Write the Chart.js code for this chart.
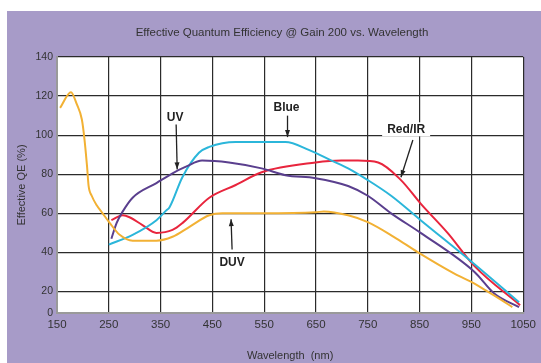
<!DOCTYPE html>
<html>
<head>
<meta charset="utf-8">
<script src="https://cdn.jsdelivr.net/npm/chart.js@4/dist/chart.umd.min.js"></script>
<style>
  body { margin: 0; background: #fff; }
  #panel { position: absolute; left: 7px; top: 11px; width: 534px; height: 352px; background: #a79bc8; }
</style>
</head>
<body>
<div id="panel"><canvas id="myChart" width="534" height="352"></canvas></div>
<script>
// values (wavelength in nm, effective QE in %)
const duvNm = [156, 177, 188, 198, 203, 208, 211, 217, 227, 238, 252, 271, 296, 342, 373, 405, 444, 469, 545, 649, 665, 712, 750, 800, 847, 918, 956, 975, 1006, 1029];
const duvQE = [114, 122, 116, 108, 98, 84, 74, 69, 64, 60, 55, 49, 46, 46, 48, 53, 59, 60, 60, 60.5, 61, 59, 55.5, 48, 40, 29, 24, 21, 16, 12];

const uvNm = [255, 265, 277, 296, 342, 373, 400, 430, 482, 545, 591, 649, 712, 750, 795, 852, 956, 994, 1042];
const uvQE = [47, 55, 61, 68, 75.5, 80.5, 84, 87, 86, 83, 79.5, 78, 74, 69, 60, 50, 30, 19, 12];

const blueNm = [250, 296, 342, 361, 367, 392, 424, 444, 495, 591, 636, 680, 712, 750, 795, 852, 956, 1042];
const blueQE = [44, 49, 56.5, 61.5, 63, 78.5, 91, 94, 96.5, 96.5, 92.5, 87, 83, 77, 69, 56.5, 34, 14.5];

const redNm = [255, 277, 290, 315, 342, 373, 392, 444, 495, 545, 649, 699, 731, 770, 814, 852, 904, 956, 1044];
const redQE = [56.5, 59, 58, 54, 50, 51.5, 55, 68, 74.5, 81, 86, 87, 87, 86, 77, 65, 50, 33, 13];

const xTicks = [150, 250, 350, 450, 550, 650, 750, 850, 950, 1050];
const yTickValues = [9, 20, 40, 60, 80, 100, 120, 140];
const yTickLabels = ['0', '20', '40', '60', '80', '100', '120', '140'];

const chartTitle = 'Effective Quantum Efficiency @ Gain 200 vs. Wavelength';

// curve labels with their arrows (data coordinates)
const labelNames = ['UV', 'Blue', 'Red/IR', 'DUV'];
const labelAt = [[378, 109], [593, 114], [824, 103], [488, 35]];
const arrowFrom = [[380, 105.5], [595, 110], [837, 97.5], [488, 41.5]];
const arrowTo = [[382, 82.5], [595, 99], [814, 78.5], [486, 57]];

const font = '"Liberation Sans", Arial, sans-serif';

function points(xs, ys) {
    return xs.map((v, i) => ({ x: v, y: ys[i] }));
}

const plotBackground = {
    id: 'plotBackground',
    beforeDraw(chart) {
        const { ctx, chartArea: a } = chart;
        ctx.save();
        ctx.fillStyle = '#ffffff';
        ctx.fillRect(a.left, a.top, a.right - a.left, a.bottom - a.top);
        // title sits a little left of centre in the original
        ctx.fillStyle = '#333';
        ctx.font = '11.5px ' + font;
        ctx.textAlign = 'center';
        ctx.textBaseline = 'middle';
        ctx.fillText(chartTitle, chart.width / 2 + 8, 22);
        ctx.restore();
    }
};

const curveLabels = {
    id: 'curveLabels',
    afterDatasetsDraw(chart) {
        const { ctx } = chart;
        const x = chart.scales.x, y = chart.scales.y;
        ctx.save();
        ctx.font = 'bold 12px ' + font;
        ctx.textAlign = 'center';
        ctx.textBaseline = 'middle';
        labelNames.forEach((name, i) => {
            const tx = x.getPixelForValue(labelAt[i][0]);
            const ty = y.getPixelForValue(labelAt[i][1]);
            if (name === 'Red/IR') {
                const w = ctx.measureText(name).width + 10;
                ctx.fillStyle = '#ffffff';
                ctx.fillRect(tx - w / 2, ty - 7, w, 14);
            }
            ctx.fillStyle = '#222';
            ctx.fillText(name, tx, ty);

            const x1 = x.getPixelForValue(arrowFrom[i][0]);
            const y1 = y.getPixelForValue(arrowFrom[i][1]);
            const x2 = x.getPixelForValue(arrowTo[i][0]);
            const y2 = y.getPixelForValue(arrowTo[i][1]);
            ctx.strokeStyle = '#222';
            ctx.lineWidth = 1.3;
            ctx.beginPath();
            ctx.moveTo(x1, y1);
            ctx.lineTo(x2, y2);
            ctx.stroke();
            const ang = Math.atan2(y2 - y1, x2 - x1);
            ctx.beginPath();
            ctx.moveTo(x2, y2);
            ctx.lineTo(x2 - 7 * Math.cos(ang) + 2.5 * Math.sin(ang), y2 - 7 * Math.sin(ang) - 2.5 * Math.cos(ang));
            ctx.lineTo(x2 - 7 * Math.cos(ang) - 2.5 * Math.sin(ang), y2 - 7 * Math.sin(ang) + 2.5 * Math.cos(ang));
            ctx.closePath();
            ctx.fillStyle = '#222';
            ctx.fill();
        });
        ctx.restore();
    }
};

const ctx = document.getElementById('myChart').getContext('2d');
const myChart = new Chart(ctx, {
    type: 'line',
    data: {
        datasets: [
            { label: 'DUV', data: points(duvNm, duvQE), borderColor: '#f2b134' },
            { label: 'UV', data: points(uvNm, uvQE), borderColor: '#5a3f8e' },
            { label: 'Blue', data: points(blueNm, blueQE), borderColor: '#2bb6da' },
            { label: 'Red/IR', data: points(redNm, redQE), borderColor: '#e8253d' }
        ]
    },
    options: {
        responsive: false,
        animation: false,
        layout: { padding: { left: 0, right: 8, top: 46, bottom: 0 } },
        elements: {
            point: { radius: 0 },
            line: { borderWidth: 2, cubicInterpolationMode: 'monotone', fill: false }
        },
        plugins: {
            legend: { display: false },
            tooltip: { enabled: false },
            title: { display: false }
        },
        scales: {
            x: {
                type: 'linear',
                min: 150,
                max: 1050,
                afterBuildTicks: s => { s.ticks = xTicks.map(v => ({ value: v })); },
                afterFit: s => { s.height = 50; },
                grid: { color: '#2b2b2b', lineWidth: 1.2, drawTicks: false },
                border: { color: '#9a9a9a', width: 2 },
                ticks: {
                    color: '#333',
                    padding: 5,
                    font: { family: font, size: 11.5 },
                    maxRotation: 0,
                    callback: v => String(v)
                },
                title: {
                    display: true,
                    text: 'Wavelength  (nm)',
                    color: '#333',
                    font: { family: font, size: 11 },
                    padding: { top: 0, bottom: 0 }
                }
            },
            y: {
                min: 9,
                max: 140,
                afterBuildTicks: s => { s.ticks = yTickValues.map(v => ({ value: v })); },
                afterFit: s => { s.width = 50; },
                grid: { color: '#2b2b2b', lineWidth: 1.2, drawTicks: false },
                border: { color: '#9a9a9a', width: 2 },
                ticks: {
                    color: '#333',
                    padding: 4,
                    font: { family: font, size: 10.5 },
                    callback: v => yTickLabels[yTickValues.indexOf(v)]
                },
                title: {
                    display: true,
                    text: 'Effective QE (%)',
                    color: '#333',
                    font: { family: font, size: 11 },
                    padding: { top: 8, bottom: 0 }
                }
            }
        }
    },
    plugins: [plotBackground, curveLabels]
});
</script>
</body>
</html>
